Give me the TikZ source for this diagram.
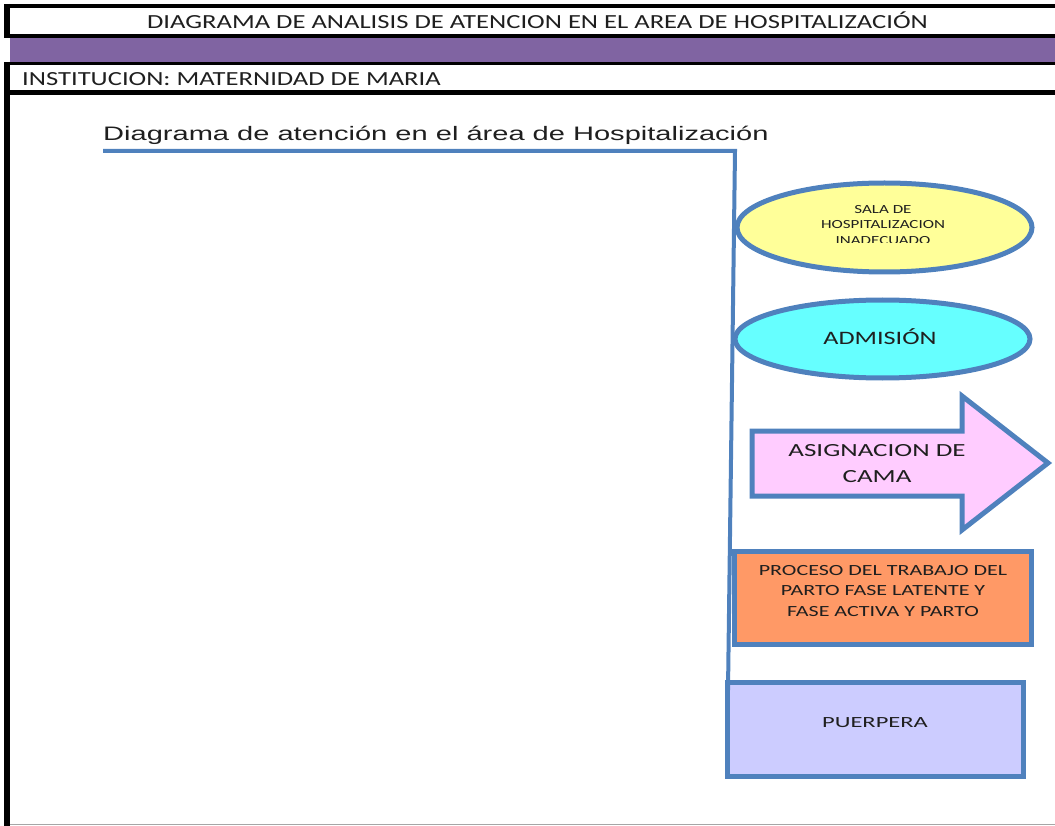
\documentclass[tikz,border=0pt]{standalone}
\usepackage{fontspec}
\usepackage{graphicx}
\setmainfont{Carlito}
\newfontfamily\arialf{Liberation Sans}
\usetikzlibrary{shapes.geometric}
\definecolor{bblue}{HTML}{4F81BD}
\definecolor{hdrpurple}{HTML}{8064A2}
\definecolor{cyellow}{HTML}{FFFF99}
\definecolor{ccyan}{HTML}{66FFFF}
\definecolor{cpink}{HTML}{FFCCFF}
\definecolor{corange}{HTML}{FF9966}
\definecolor{clav}{HTML}{CCCCFF}
\definecolor{txt}{HTML}{1F1F1F}
\newcommand\hs[2]{\scalebox{#1}[1]{#2}}
\tikzset{
  blk/.style={black,line width=4.5pt},
  shp/.style={draw=bblue,line width=5pt,align=center,text=txt,inner sep=0pt},
  ell/.style={shp,ellipse},
  box/.style={shp,rectangle},
  lbl/.style={text=txt,align=center,inner sep=0pt},
}
\begin{document}
\begin{tikzpicture}[x=1pt,y=-1pt]
\useasboundingbox (0,0) rectangle (1055,826);
% header frame
\fill[hdrpurple] (10,38) rectangle (1055,62);
\draw[blk] (4,6) -- (1055,6);
\draw[blk] (4,36) -- (1055,36);
\draw[black,line width=3pt] (4,63.5) -- (1055,63.5);
\draw[blk] (4,92.5) -- (1055,92.5);
\draw[black,line width=6pt] (7,4) -- (7,38);
\draw[black,line width=6pt] (7,62) -- (7,826);
\draw[gray!70,line width=1.5pt] (10,824.5) -- (1055,824.5);
\node[lbl,font=\fontsize{20}{22}\selectfont] (title) at (537.5,20.5) {\hs{1.33}{DIAGRAMA DE ANALISIS DE ATENCION EN EL AREA DE HOSPITALIZACIÓN}};
\node[lbl,font=\fontsize{20}{22}\selectfont,anchor=west] (inst) at (22,79.5) {\hs{1.33}{INSTITUCION: MATERNIDAD DE MARIA}};
% diagram title
\node[lbl,font=\arialf\fontsize{19.5}{22}\selectfont,anchor=base west] (dtitle) at (103,141) {\hs{1.49}{Diagrama de atención en el área de Hospitalización}};
% shapes
\node[ell,fill=cyellow,minimum width=295pt,minimum height=89pt] (sala) at (884.5,227.5) {};
\begin{scope}
\clip (735,190) rectangle (1035,243);
\node[lbl,font=\fontsize{12.4}{15.5}\selectfont,anchor=north] (salat) at (883,205) {\hs{1.37}{SALA DE}\\\hs{1.37}{HOSPITALIZACION}\\\hs{1.37}{INADECUADO}};
\end{scope}
\node[ell,fill=ccyan,minimum width=295pt,minimum height=78pt] (adm) at (882.5,339) {};
\node[lbl,font=\fontsize{19}{22}\selectfont] (admt) at (880,337) {\hs{1.38}{ADMISIÓN}};
\draw[bblue,line width=5pt,fill=cpink,line join=miter]
  (752,431) -- (962,431) -- (962,396) -- (1048,463) -- (962,530) -- (962,496) -- (752,496) -- cycle;
\node[lbl,font=\fontsize{18.5}{26}\selectfont] (asigt) at (877,464) {\hs{1.46}{ASIGNACION DE}\\\hs{1.46}{CAMA}};
\node[box,fill=corange,minimum width=297pt,minimum height=93pt] (proc) at (882.5,597.5) {};
\node[lbl,font=\fontsize{15.5}{20.5}\selectfont] (proct) at (883,591) {\hs{1.42}{PROCESO DEL TRABAJO DEL}\\\hs{1.42}{PARTO FASE LATENTE Y}\\\hs{1.42}{FASE ACTIVA Y PARTO}};
\node[box,fill=clav,minimum width=296pt,minimum height=94pt] (puer) at (875,729.5) {};
\node[lbl,font=\fontsize{15.5}{18}\selectfont] (puert) at (875,723) {\hs{1.58}{PUERPERA}};
% connector line
\draw[bblue,line width=4pt] (103,151) -- (735,151) -- (728,690);
\end{tikzpicture}
\end{document}
